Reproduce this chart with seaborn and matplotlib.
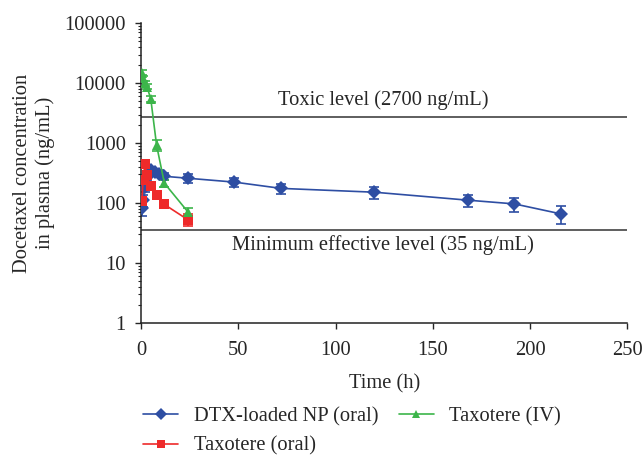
import numpy as np
import pandas as pd
import matplotlib
matplotlib.use("Agg")
import matplotlib.pyplot as plt
import seaborn as sns

# values (ng/mL)
t_np = [0.25, 1, 2, 3, 5, 7, 9, 12, 24, 48, 72, 120, 168, 192, 216]
c_np = [82, 112, 187, 275, 350, 330, 310, 280, 260, 224, 176, 152, 112, 97, 66]
e_np = [22, 25, 35, 40, 45, 40, 40, 40, 45, 40, 35, 33, 25, 25, 22]

t_oral = [0.5, 1, 2, 3, 5, 8, 12, 24]
c_oral = [108, 240, 450, 290, 190, 135, 95, 53]
e_oral = [10, 30, 60, 40, 25, 15, 12, 12]

t_iv = [0.25, 1, 2, 3, 5, 8, 12, 24]
c_iv = [15000, 12000, 10000, 8800, 5500, 920, 215, 72]
e_iv = [1500, 1200, 1000, 900, 600, 190, 30, 10]

labels = ["DTX-loaded NP (oral)", "Taxotere (oral)", "Taxotere (IV)"]
colors = ["#2e4ea3", "#ee2a2a", "#3cb54a"]
markers = ["D", "s", "^"]

toxic = 2700
mec = 35

df = pd.concat([
    pd.DataFrame({"time": t_np, "conc": c_np, "err": e_np, "group": labels[0]}),
    pd.DataFrame({"time": t_oral, "conc": c_oral, "err": e_oral, "group": labels[1]}),
    pd.DataFrame({"time": t_iv, "conc": c_iv, "err": e_iv, "group": labels[2]}),
])

sns.set_style("ticks")
plt.rcParams["font.family"] = ["Liberation Serif", "DejaVu Serif"]
fs = 14.8

fig = plt.figure(figsize=(6.44, 4.55), dpi=100)
ax = fig.add_axes([0.219, 0.290, 0.755, 0.659])

# error bars first so the markers sit on top
for lab, col in zip(labels, colors):
    d = df[df["group"] == lab]
    ax.errorbar(d["time"], d["conc"], yerr=d["err"], fmt="none", ecolor=col,
                elinewidth=1.2, capsize=3.5, capthick=1.2, zorder=2)

sns.lineplot(data=df, x="time", y="conc", hue="group", style="group",
             hue_order=labels, style_order=labels, palette=colors,
             markers=markers, dashes=False, markersize=7.5, markeredgewidth=0,
             linewidth=1.2, ax=ax, zorder=3)

ax.axhline(toxic, color="#333333", lw=1.1, zorder=1)
ax.axhline(mec, color="#333333", lw=1.1, zorder=1)
ax.text(124.5, 5200, "Toxic level (2700 ng/mL)", ha="center", va="center", fontsize=fs)
ax.text(124.5, 20, "Minimum effective level (35 ng/mL)", ha="center", va="center", fontsize=fs)

ax.set_yscale("log")
ax.set_ylim(1, 100000)
ax.set_xlim(0, 250)
ax.set_xticks([0, 50, 100, 150, 200, 250])
ax.set_yticks([1, 10, 100, 1000, 10000, 100000])
ax.set_yticklabels(["1", "10", "100", "1000", "10000", "100000"])
ax.tick_params(axis="both", labelsize=fs, width=1, length=4, direction="out")
ax.tick_params(axis="x", pad=9)
ax.tick_params(axis="y", pad=7)
ax.tick_params(axis="y", which="minor", length=2.5, width=0.8)
ax.set_xlabel("Time (h)", fontsize=fs, labelpad=10)
ax.set_ylabel("Docetaxel concentration\nin plasma (ng/mL)", fontsize=fs, labelpad=7)
for s in ["left", "bottom"]:
    ax.spines[s].set_linewidth(1.1)
    ax.spines[s].set_color("#222222")
sns.despine(ax=ax)

leg = ax.legend(loc="upper left", bbox_to_anchor=(-0.012, -0.252), ncol=2, frameon=False,
                fontsize=fs, handlelength=1.7, columnspacing=1.0, labelspacing=0.5,
                handletextpad=0.75, borderaxespad=0, markerscale=0.8)

fig.savefig("out.png", dpi=100)
